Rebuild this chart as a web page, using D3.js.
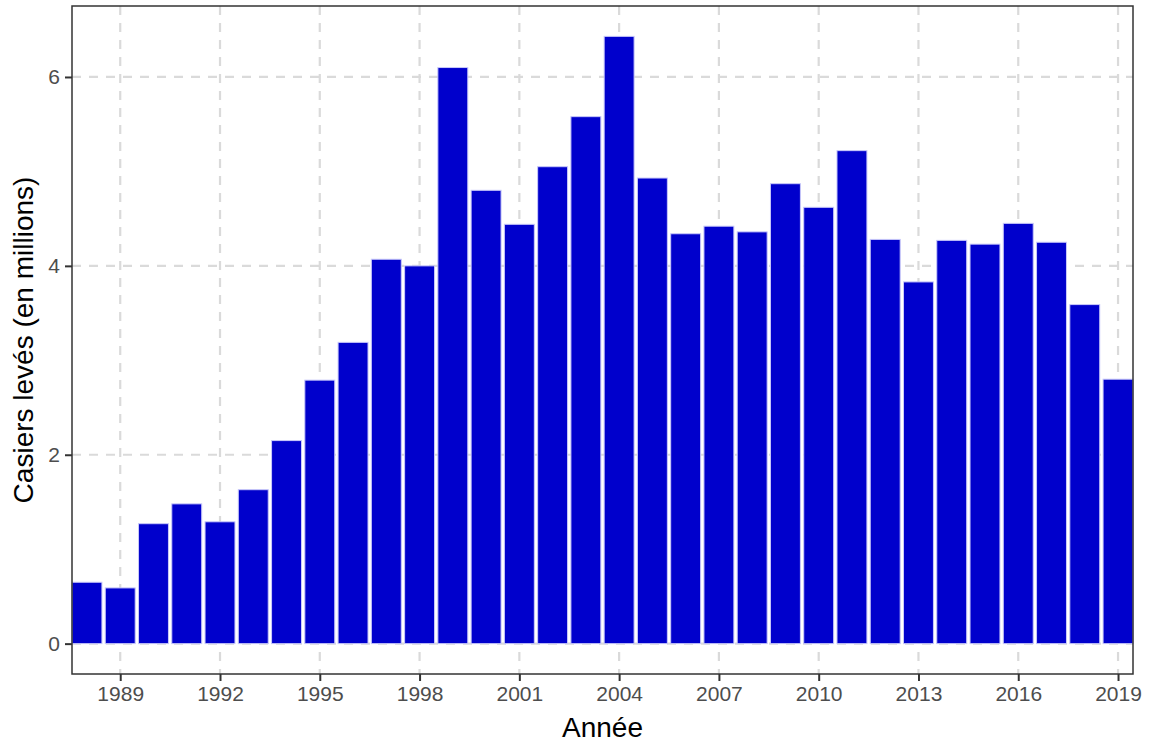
<!DOCTYPE html>
<html>
<head>
<meta charset="utf-8">
<script src="https://cdn.jsdelivr.net/npm/d3@7"></script>
<style>
  body { margin: 0; background: #fff; }
  svg { font-family: "Liberation Sans", Arial, sans-serif; }
</style>
</head>
<body>
<svg id="chart" width="1150" height="744"></svg>
<script>
// data
const years = [1988, 1989, 1990, 1991, 1992, 1993, 1994, 1995, 1996, 1997, 1998,
  1999, 2000, 2001, 2002, 2003, 2004, 2005, 2006, 2007, 2008, 2009, 2010,
  2011, 2012, 2013, 2014, 2015, 2016, 2017, 2018, 2019];
const casiers = [0.65, 0.59, 1.27, 1.48, 1.29, 1.63, 2.15, 2.79, 3.19, 4.07, 4.00,
  6.10, 4.80, 4.44, 5.05, 5.58, 6.43, 4.93, 4.34, 4.42, 4.36, 4.87, 4.62,
  5.22, 4.28, 3.83, 4.27, 4.23, 4.45, 4.25, 3.59, 2.80];
const xTicks = [1989, 1992, 1995, 1998, 2001, 2004, 2007, 2010, 2013, 2016, 2019];
const yTicks = [0, 2, 4, 6];

const w = 1150, h = 744;
const margins = { top: 6, right: 17, bottom: 70, left: 72 };

const chart = d3.select('#chart');

const barW = 0.9;
const xScale = d3.scaleLinear()
  .domain([years[0] - barW / 2, years[years.length - 1] + barW / 2])
  .range([margins.left, w - margins.right]);

// ggplot style 5% expansion
const yMax = d3.max(casiers);
const yScale = d3.scaleLinear()
  .domain([-0.05 * yMax, yMax * 1.05])
  .range([h - margins.bottom, margins.top]);

// GRID
const grid = chart.append('g');
grid.selectAll('.vgrid')
  .data(xTicks)
  .join('line')
  .attr('x1', d => xScale(d)).attr('x2', d => xScale(d))
  .attr('y1', margins.top).attr('y2', h - margins.bottom)
  .attr('stroke', '#dadada').attr('stroke-width', 2.2)
  .attr('stroke-dasharray', '9,8');
grid.selectAll('.hgrid')
  .data(yTicks)
  .join('line')
  .attr('y1', d => yScale(d)).attr('y2', d => yScale(d))
  .attr('x1', margins.left).attr('x2', w - margins.right)
  .attr('stroke', '#dadada').attr('stroke-width', 2.2)
  .attr('stroke-dasharray', '9,8');

// BARS
chart.append('g')
  .selectAll('rect')
  .data(years.map((y, i) => ({ year: y, value: casiers[i] })))
  .join('rect')
  .attr('x', d => xScale(d.year - barW / 2))
  .attr('width', d => xScale(d.year + barW / 2) - xScale(d.year - barW / 2))
  .attr('y', d => yScale(d.value))
  .attr('height', d => yScale(0) - yScale(d.value))
  .attr('fill', '#0000cc')
  .attr('stroke', '#c8c8fa')
  .attr('stroke-width', 1);

// PANEL BORDER
chart.append('rect')
  .attr('x', margins.left).attr('y', margins.top)
  .attr('width', w - margins.left - margins.right)
  .attr('height', h - margins.top - margins.bottom)
  .attr('fill', 'none')
  .attr('stroke', '#333333')
  .attr('stroke-width', 1.5);

// AXES
const xAxis = chart.append('g')
  .attr('transform', `translate(0, ${h - margins.bottom})`)
  .call(d3.axisBottom(xScale).tickValues(xTicks).tickFormat(d3.format('d')).tickSize(7).tickPadding(5));
const yAxis = chart.append('g')
  .attr('transform', `translate(${margins.left}, 0)`)
  .call(d3.axisLeft(yScale).tickValues(yTicks).tickSize(7).tickPadding(5));

[xAxis, yAxis].forEach(a => {
  a.select('.domain').remove();
  a.selectAll('.tick line').attr('stroke', '#333333').attr('stroke-width', 2);
  a.selectAll('.tick text')
    .attr('fill', '#4d4d4d')
    .style('font-size', '21px')
    .style('font-family', '"Liberation Sans", Arial, sans-serif');
});

// LABELS
chart.append('text')
  .attr('transform', `translate(${(margins.left + w - margins.right) / 2}, ${737})`)
  .attr('text-anchor', 'middle')
  .style('font-size', '28px')
  .attr('fill', '#000')
  .text('Année');

chart.append('text')
  .attr('transform', `translate(${33}, ${(margins.top + h - margins.bottom) / 2}) rotate(-90)`)
  .attr('text-anchor', 'middle')
  .style('font-size', '28px')
  .attr('fill', '#000')
  .text('Casiers levés (en millions)');
</script>
</body>
</html>
